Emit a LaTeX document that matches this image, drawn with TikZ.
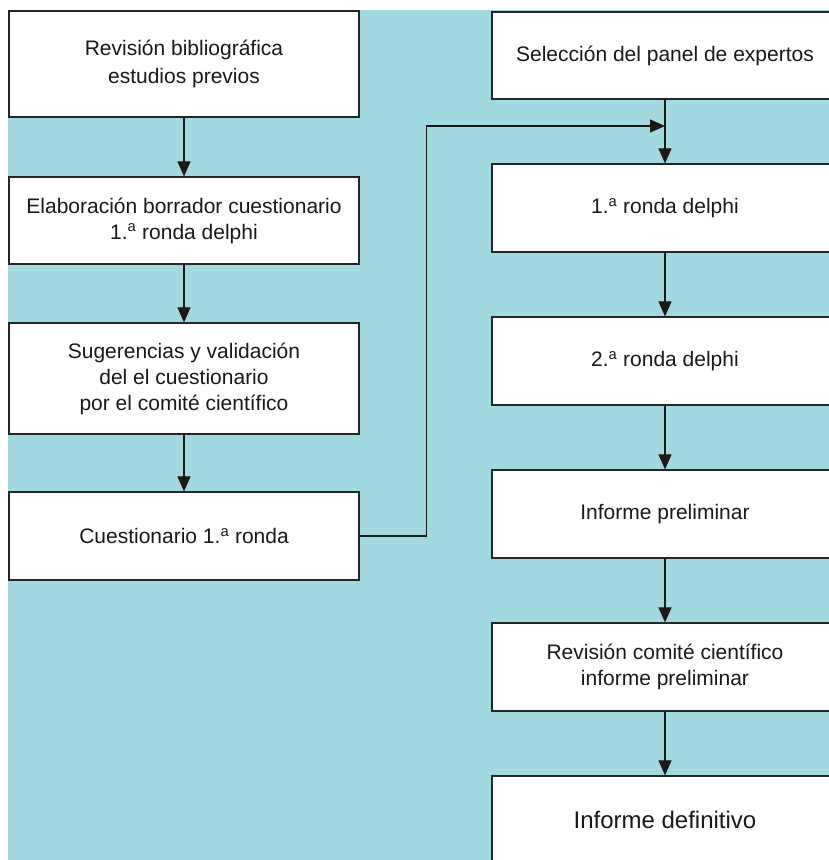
\documentclass[tikz,border=0pt]{standalone}
\usepackage{fontspec}
\setmainfont{Liberation Sans}
\usetikzlibrary{arrows.meta}
\definecolor{fondo}{RGB}{162,217,225}
\definecolor{borde}{RGB}{35,38,42}
\newcommand{\numa}[1]{#1.\textsuperscript{a}}

\begin{document}
\begin{tikzpicture}[x=1pt, y=-1pt,
    paso/.style={draw=borde, line width=1.2pt, fill=white, inner sep=0pt, align=center,
        minimum height=88pt, text=black!90, font=\fontsize{21}{26}\selectfont},
    izq/.style={paso, minimum width=350pt},
    der/.style={paso, minimum width=346pt},
    flecha/.style={-{Triangle[length=15pt, width=13pt]}, draw=black!90, line width=1.1pt}]
    \clip (0,0) rectangle (829,860);
    \fill[fondo] (8,10) rectangle (829,860);
    \node[izq, minimum height=106pt, font=\fontsize{21}{28}\selectfont] (revision) at (184,64) {Revisión bibliográfica\\estudios previos};
    \node[izq, minimum height=87pt] (borrador) at (184,220.5) {Elaboración borrador cuestionario\\\numa{1} ronda delphi};
    \node[izq, minimum height=111pt] (sugerencias) at (184,378.5) {Sugerencias y validación\\del el cuestionario\\por el comité científico};
    \node[izq] (cuestionario) at (184,536) {Cuestionario \numa{1} ronda};
    \node[der, minimum height=87pt] (panel) at (665,55.5) {Selección del panel de expertos};
    \node[der] (ronda1) at (665,208) {\numa{1} ronda delphi};
    \node[der] (ronda2) at (665,361) {\numa{2} ronda delphi};
    \node[der] (preliminar) at (665,514) {Informe preliminar};
    \node[der] (comite) at (665,667) {Revisión comité científico\\informe preliminar};
    \node[der, font=\fontsize{24}{28}\selectfont] (definitivo) at (665,820) {Informe definitivo};
    \coordinate (union) at (665,126);
    \draw[flecha] (revision) -- (borrador);
    \draw[flecha] (borrador) -- (sugerencias);
    \draw[flecha] (sugerencias) -- (cuestionario);
    \draw[flecha] (cuestionario.east) -- ++(67,0) |- (union);
    \draw[flecha] (panel) -- (ronda1);
    \draw[flecha] (ronda1) -- (ronda2);
    \draw[flecha] (ronda2) -- (preliminar);
    \draw[flecha] (preliminar) -- (comite);
    \draw[flecha] (comite) -- (definitivo);
\end{tikzpicture}
\end{document}
